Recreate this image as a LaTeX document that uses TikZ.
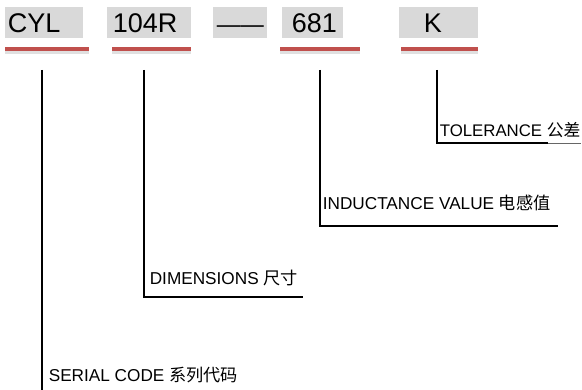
\documentclass[tikz,border=0pt]{standalone}
\usepackage{fontspec}
\setmainfont{Liberation Sans}
\newfontfamily\cjk{Noto Sans CJK SC}
\definecolor{boxgray}{HTML}{D9D9D9}
\definecolor{markred}{HTML}{C0504D}

\begin{document}
\begin{tikzpicture}[x=1pt, y=-1pt, line width=1.6pt,
    code/.style={anchor=base west, inner sep=0pt, font=\fontsize{27}{30}\selectfont},
    label/.style={anchor=base west, inner sep=0pt, font=\fontsize{17.2}{19}\selectfont}]
    \useasboundingbox (0,0) rectangle (582,390);

    % grey boxes behind the code
    \foreach \a/\b in {5/83, 107/191, 213/267, 282/343, 399/478}
    \fill[boxgray] (\a,7) rectangle (\b,38);

    \node[code] at (7, 33) (c 1)   {CYL};
    \node[code] at (112, 33) (c 2) {104R};
    \node[code, font=\fontsize{23.5}{26}\selectfont] at (216, 33) (c d) {——};
    \node[code] at (291, 33) (c 3) {681};
    \node[code] at (423, 33) (c 4) {K};

    % red marks under the code
    \foreach \a/\b in {5/89, 112/191, 280/360, 401/478}
    {
    \draw[black!12, line width=3pt] (\a,53) -- (\b,53);
    \draw[markred, line width=4pt] (\a,49.5) -- (\b,49.5);
    }

    \node[label] at (48, 382) (l 1)  {SERIAL CODE {\cjk 系列代码}};
    \node[label] at (149, 285) (l 2) {DIMENSIONS {\cjk 尺寸}};
    \node[label] at (322, 210) (l 3) {INDUCTANCE VALUE {\cjk 电感值}};
    \node[label, font=\fontsize{16.8}{19}\selectfont] at (439, 137) (l 4) {TOLERANCE {\cjk 公差}};

    \coordinate (t 1) at (42, 70);
    \coordinate (t 2) at (144, 70);
    \coordinate (t 3) at (320, 70);
    \coordinate (t 4) at (437, 70);

    \coordinate (f 1) at (42, 390);
    \coordinate (f 2) at (303, 297);
    \coordinate (f 3) at (558, 226);
    \coordinate (f 4) at (548, 143);
    \coordinate (e 4) at (581, 143);

    \draw (t 1) -- (f 1);
    \foreach \x in {2,3,4}
    \draw (t \x) |- (f \x);
    \draw[black!60, line width=0.8pt] (f 4) -- (e 4);

\end{tikzpicture}
\end{document}
